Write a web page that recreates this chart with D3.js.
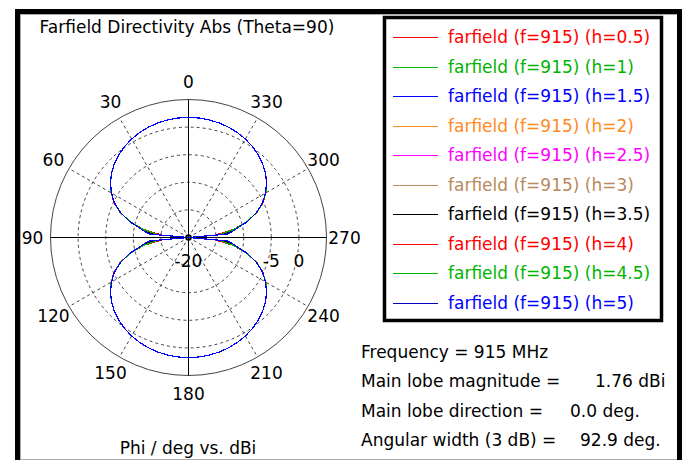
<!DOCTYPE html>
<html>
<head>
<meta charset="utf-8">
<script src="https://cdn.jsdelivr.net/npm/d3@7/dist/d3.min.js"></script>
<style>
  html, body { margin: 0; padding: 0; background: #fff; }
  svg { display: block; font-family: "DejaVu Sans", Verdana, sans-serif; }
</style>
</head>
<body>
<svg id="chart" width="688" height="460"></svg>
<script>
// Azimuth angles (deg) at which directivity is sampled
const phi = d3.range(0, 360, 5);

// Directivity (dBi) per antenna height, one value per angle in phi
const h05 = [1.76,1.73,1.64,1.48,1.26,0.97,0.60,0.15,-0.39,-1.03,-1.80,-2.70,-3.80,-5.15,-6.85,-9.15,-11.8,-15.0,-32,
  -15.0,-11.8,-9.15,-6.85,-5.15,-3.80,-2.70,-1.80,-1.03,-0.39,0.15,0.60,0.97,1.26,1.48,1.64,1.73,
  1.76,1.73,1.64,1.48,1.26,0.97,0.60,0.15,-0.39,-1.03,-1.80,-2.70,-3.80,-5.15,-6.85,-9.15,-11.8,-15.0,-32,
  -15.0,-11.8,-9.15,-6.85,-5.15,-3.80,-2.70,-1.80,-1.03,-0.39,0.15,0.60,0.97,1.26,1.48,1.64,1.73];
const h10 = [1.76,1.73,1.64,1.48,1.26,0.97,0.60,0.15,-0.39,-1.03,-1.80,-2.72,-3.83,-5.17,-6.88,-9.12,-11.7,-14.4,-35,
  -14.4,-11.7,-9.12,-6.88,-5.17,-3.83,-2.72,-1.80,-1.03,-0.39,0.15,0.60,0.97,1.26,1.48,1.64,1.73,
  1.76,1.73,1.64,1.48,1.26,0.97,0.60,0.15,-0.39,-1.03,-1.80,-2.72,-3.83,-5.17,-6.88,-9.12,-11.7,-14.4,-35,
  -14.4,-11.7,-9.12,-6.88,-5.17,-3.83,-2.72,-1.80,-1.03,-0.39,0.15,0.60,0.97,1.26,1.48,1.64,1.73];
const h15 = [1.76,1.73,1.64,1.48,1.26,0.97,0.60,0.15,-0.39,-1.03,-1.80,-2.74,-3.86,-5.20,-6.92,-9.05,-11.4,-13.2,-38,
  -13.2,-11.4,-9.05,-6.92,-5.20,-3.86,-2.74,-1.80,-1.03,-0.39,0.15,0.60,0.97,1.26,1.48,1.64,1.73,
  1.76,1.73,1.64,1.48,1.26,0.97,0.60,0.15,-0.39,-1.03,-1.80,-2.74,-3.86,-5.20,-6.92,-9.05,-11.4,-13.2,-38,
  -13.2,-11.4,-9.05,-6.92,-5.20,-3.86,-2.74,-1.80,-1.03,-0.39,0.15,0.60,0.97,1.26,1.48,1.64,1.73];
const h20 = [1.76,1.73,1.64,1.48,1.26,0.97,0.60,0.15,-0.39,-1.03,-1.80,-2.71,-3.81,-5.16,-6.86,-9.10,-11.6,-14.0,-33,
  -14.0,-11.6,-9.10,-6.86,-5.16,-3.81,-2.71,-1.80,-1.03,-0.39,0.15,0.60,0.97,1.26,1.48,1.64,1.73,
  1.76,1.73,1.64,1.48,1.26,0.97,0.60,0.15,-0.39,-1.03,-1.80,-2.71,-3.81,-5.16,-6.86,-9.10,-11.6,-14.0,-33,
  -14.0,-11.6,-9.10,-6.86,-5.16,-3.81,-2.71,-1.80,-1.03,-0.39,0.15,0.60,0.97,1.26,1.48,1.64,1.73];
const h25 = [1.76,1.73,1.64,1.48,1.26,0.97,0.60,0.15,-0.39,-1.03,-1.80,-2.73,-3.85,-5.19,-6.90,-9.12,-11.7,-14.6,-36,
  -14.6,-11.7,-9.12,-6.90,-5.19,-3.85,-2.73,-1.80,-1.03,-0.39,0.15,0.60,0.97,1.26,1.48,1.64,1.73,
  1.76,1.73,1.64,1.48,1.26,0.97,0.60,0.15,-0.39,-1.03,-1.80,-2.73,-3.85,-5.19,-6.90,-9.12,-11.7,-14.6,-36,
  -14.6,-11.7,-9.12,-6.90,-5.19,-3.85,-2.73,-1.80,-1.03,-0.39,0.15,0.60,0.97,1.26,1.48,1.64,1.73];
const h30 = [1.76,1.73,1.64,1.48,1.26,0.97,0.60,0.15,-0.39,-1.03,-1.80,-2.72,-3.84,-5.18,-6.89,-9.10,-11.6,-13.8,-34,
  -13.8,-11.6,-9.10,-6.89,-5.18,-3.84,-2.72,-1.80,-1.03,-0.39,0.15,0.60,0.97,1.26,1.48,1.64,1.73,
  1.76,1.73,1.64,1.48,1.26,0.97,0.60,0.15,-0.39,-1.03,-1.80,-2.72,-3.84,-5.18,-6.89,-9.10,-11.6,-13.8,-34,
  -13.8,-11.6,-9.10,-6.89,-5.18,-3.84,-2.72,-1.80,-1.03,-0.39,0.15,0.60,0.97,1.26,1.48,1.64,1.73];
const h35 = [1.76,1.73,1.64,1.48,1.26,0.97,0.60,0.15,-0.39,-1.03,-1.80,-2.74,-3.86,-5.20,-6.91,-9.08,-11.5,-13.6,-37,
  -13.6,-11.5,-9.08,-6.91,-5.20,-3.86,-2.74,-1.80,-1.03,-0.39,0.15,0.60,0.97,1.26,1.48,1.64,1.73,
  1.76,1.73,1.64,1.48,1.26,0.97,0.60,0.15,-0.39,-1.03,-1.80,-2.74,-3.86,-5.20,-6.91,-9.08,-11.5,-13.6,-37,
  -13.6,-11.5,-9.08,-6.91,-5.20,-3.86,-2.74,-1.80,-1.03,-0.39,0.15,0.60,0.97,1.26,1.48,1.64,1.73];
const h40 = [1.76,1.73,1.64,1.48,1.26,0.97,0.60,0.15,-0.39,-1.03,-1.80,-2.70,-3.79,-5.14,-6.84,-9.15,-11.8,-15.2,-31,
  -15.2,-11.8,-9.15,-6.84,-5.14,-3.79,-2.70,-1.80,-1.03,-0.39,0.15,0.60,0.97,1.26,1.48,1.64,1.73,
  1.76,1.73,1.64,1.48,1.26,0.97,0.60,0.15,-0.39,-1.03,-1.80,-2.70,-3.79,-5.14,-6.84,-9.15,-11.8,-15.2,-31,
  -15.2,-11.8,-9.15,-6.84,-5.14,-3.79,-2.70,-1.80,-1.03,-0.39,0.15,0.60,0.97,1.26,1.48,1.64,1.73];
const h45 = [1.76,1.73,1.64,1.48,1.26,0.97,0.60,0.15,-0.39,-1.03,-1.80,-2.72,-3.82,-5.17,-6.87,-9.12,-11.7,-14.5,-34,
  -14.5,-11.7,-9.12,-6.87,-5.17,-3.82,-2.72,-1.80,-1.03,-0.39,0.15,0.60,0.97,1.26,1.48,1.64,1.73,
  1.76,1.73,1.64,1.48,1.26,0.97,0.60,0.15,-0.39,-1.03,-1.80,-2.72,-3.82,-5.17,-6.87,-9.12,-11.7,-14.5,-34,
  -14.5,-11.7,-9.12,-6.87,-5.17,-3.82,-2.72,-1.80,-1.03,-0.39,0.15,0.60,0.97,1.26,1.48,1.64,1.73];
const h50 = [1.76,1.73,1.64,1.48,1.26,0.97,0.60,0.15,-0.39,-1.03,-1.80,-2.75,-3.88,-5.21,-6.94,-9.02,-11.3,-12.8,-40,
  -12.8,-11.3,-9.02,-6.94,-5.21,-3.88,-2.75,-1.80,-1.03,-0.39,0.15,0.60,0.97,1.26,1.48,1.64,1.73,
  1.76,1.73,1.64,1.48,1.26,0.97,0.60,0.15,-0.39,-1.03,-1.80,-2.75,-3.88,-5.21,-6.94,-9.02,-11.3,-12.8,-40,
  -12.8,-11.3,-9.02,-6.94,-5.21,-3.88,-2.75,-1.80,-1.03,-0.39,0.15,0.60,0.97,1.26,1.48,1.64,1.73];

const seriesNames = ["farfield (f=915) (h=0.5)","farfield (f=915) (h=1)","farfield (f=915) (h=1.5)",
  "farfield (f=915) (h=2)","farfield (f=915) (h=2.5)","farfield (f=915) (h=3)","farfield (f=915) (h=3.5)",
  "farfield (f=915) (h=4)","farfield (f=915) (h=4.5)","farfield (f=915) (h=5)"];
const seriesValues = [h05, h10, h15, h20, h25, h30, h35, h40, h45, h50];
const seriesColors = ["#ff0000","#00b400","#0000ff","#ff8a1e","#ff00ff","#b88a5c","#000000","#ff0000","#00b400","#0000ff"];

// Grid: angle ticks (deg) and radial rings (dBi)
const angleTicks = d3.range(0, 360, 30);
const ringValues = [-15, -10, -5, 0];
const radialLabels = [-20, -5, 0];

// Summary text
const infoLabels = ["Frequency = 915 MHz", "Main lobe magnitude =", "Main lobe direction =", "Angular width (3 dB) ="];
const infoValues = ["", "1.76 dBi", "0.0 deg.", "92.9 deg."];

const svg = d3.select("#chart");

// Outer window frame
svg.append("rect").attr("x", 17.5).attr("y", 11.5).attr("width", 662).attr("height", 470)
  .attr("fill", "#fff").attr("stroke", "#000").attr("stroke-width", 5);
svg.append("line").attr("x1", 20).attr("x2", 677).attr("y1", 14.5).attr("y2", 14.5).attr("stroke", "#aaa");
svg.append("line").attr("x1", 20.5).attr("x2", 20.5).attr("y1", 14).attr("y2", 460).attr("stroke", "#aaa");
svg.append("line").attr("x1", 20).attr("x2", 677).attr("y1", 459.5).attr("y2", 459.5).attr("stroke", "#aaa");

svg.append("text").attr("x", 187).attr("y", 33).attr("text-anchor", "middle")
  .attr("font-size", 17).attr("fill", "#000").text("Farfield Directivity Abs (Theta=90)");

// Polar plot
const cx = 188.5, cy = 237.5, R = 138;
const r = d3.scaleLinear().domain([-20, 5]).range([0, R]).clamp(true);
const toRad = d => d * Math.PI / 180;
const g = svg.append("g").attr("transform", `translate(${cx},${cy})`);

g.selectAll("circle.ring").data(ringValues).join("circle").attr("class", "ring")
  .attr("r", d => r(d)).attr("fill", "none").attr("stroke", "#444").attr("stroke-dasharray", "3,3");
g.append("circle").attr("r", r(5)).attr("fill", "none").attr("stroke", "#444");

// Dashed spokes every 30 deg, solid main axes
g.selectAll("line.spoke").data(angleTicks.filter(a => a % 90 !== 0)).join("line").attr("class", "spoke")
  .attr("x1", 0).attr("y1", 0)
  .attr("x2", a => -R * Math.sin(toRad(a))).attr("y2", a => -R * Math.cos(toRad(a)))
  .attr("stroke", "#444").attr("stroke-dasharray", "3,3");
g.append("line").attr("x1", -R).attr("x2", R).attr("y1", 0).attr("y2", 0).attr("stroke", "#000");
g.append("line").attr("y1", -R).attr("y2", R).attr("x1", 0).attr("x2", 0).attr("stroke", "#000");

// Angle labels, counter-clockwise from the top
const LR = R + 18;
g.selectAll("text.ang").data(angleTicks).join("text").attr("class", "ang")
  .attr("x", a => -LR * Math.sin(toRad(a))).attr("y", a => -LR * Math.cos(toRad(a)))
  .attr("text-anchor", "middle").attr("dominant-baseline", "central")
  .attr("font-size", 17).attr("fill", "#000").text(a => a);

// Radial scale labels along the 270 side
g.selectAll("text.rad").data(radialLabels).join("text").attr("class", "rad")
  .attr("x", d => r(d)).attr("y", 23)
  .attr("text-anchor", "middle").attr("dominant-baseline", "central")
  .attr("font-size", 17).attr("fill", "#000").text(d => d);

// Directivity curves, straight segments between samples
const line = d3.lineRadial()
  .angle(d => -toRad(d[0]))
  .radius(d => r(d[1]))
  .curve(d3.curveLinearClosed);
seriesValues.forEach((vals, i) => {
  g.append("path").datum(phi.map((p, j) => [p, vals[j]]))
    .attr("d", line).attr("fill", "none").attr("stroke", seriesColors[i]).attr("stroke-width", 1.2)
    .attr("shape-rendering", "crispEdges");
});
g.append("circle").attr("r", 2.5).attr("fill", "none").attr("stroke", "#000").attr("stroke-width", 1.5);

svg.append("text").attr("x", 188).attr("y", 454).attr("text-anchor", "middle")
  .attr("font-size", 17).attr("fill", "#000").text("Phi / deg vs. dBi");

// Legend
svg.append("rect").attr("x", 384.5).attr("y", 17.5).attr("width", 277).attr("height", 303)
  .attr("fill", "#fff").attr("stroke", "#000").attr("stroke-width", 3.5);
const leg = svg.append("g");
seriesNames.forEach((name, i) => {
  const y = 37 + i * 29.5;
  leg.append("rect").attr("x", 393).attr("y", Math.round(y)).attr("width", 45).attr("height", 1)
    .attr("fill", i === 9 ? "#0000c0" : seriesColors[i]).attr("shape-rendering", "crispEdges");
  leg.append("text").attr("x", 448).attr("y", y).attr("dominant-baseline", "central")
    .attr("font-size", 17).attr("fill", seriesColors[i]).text(name);
});

// Summary lines
const valueX = [0, 595, 570, 580];
infoLabels.forEach((t, i) => {
  const y = 352 + i * 29.3;
  svg.append("text").attr("x", 361).attr("y", y).attr("dominant-baseline", "central")
    .attr("font-size", 17).attr("fill", "#000").text(t);
  if (infoValues[i]) {
    svg.append("text").attr("x", valueX[i]).attr("y", y).attr("dominant-baseline", "central")
      .attr("font-size", 17).attr("fill", "#000").text(infoValues[i]);
  }
});
</script>
</body>
</html>
